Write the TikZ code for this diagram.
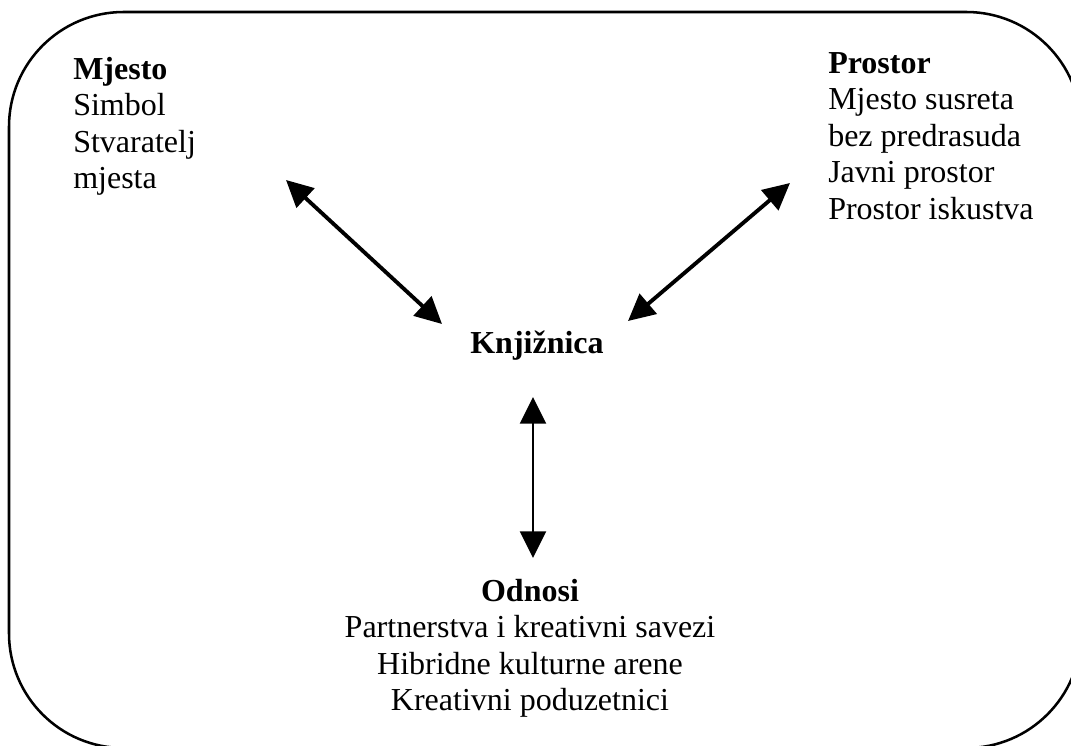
\documentclass[tikz,border=0pt]{standalone}
\usepackage{fontspec}
\setmainfont{Liberation Serif}
\usetikzlibrary{arrows.meta}
\begin{document}
\begin{tikzpicture}[x=0.75pt,y=-0.75pt,
  frame/.style={draw=black,line width=1.9pt,rounded corners=86pt},
  txt/.style={inner sep=0pt,font=\fontsize{24}{27.4}\selectfont},
  dbl/.style={line width=2.9pt,{Triangle[length=20pt,width=19.5pt]}-{Triangle[length=20pt,width=19.5pt]}},
  dblthin/.style={line width=1.8pt,{Triangle[length=20pt,width=19.5pt]}-{Triangle[length=20pt,width=19.5pt]}}]
\useasboundingbox (0,0) rectangle (1071,746);
\draw[frame] (9,12) rectangle (1081,748);
\node[txt,anchor=base west] (mjesto) at (73,79)
  {\begin{tabular}[t]{@{}l@{}}\textbf{Mjesto}\\Simbol\\Stvaratelj\\mjesta\end{tabular}};
\node[txt,anchor=base west] (prostor) at (828,73)
  {\begin{tabular}[t]{@{}l@{}}\textbf{Prostor}\\Mjesto susreta\\bez predrasuda\\Javni prostor\\Prostor iskustva\end{tabular}};
\node[txt,anchor=base] (knjiznica) at (537,353) {\textbf{Knjižnica}};
\node[txt,anchor=base] (odnosi) at (530,601)
  {\begin{tabular}[t]{@{}c@{}}\textbf{Odnosi}\\Partnerstva i kreativni savezi\\Hibridne kulturne arene\\Kreativni poduzetnici\end{tabular}};
\coordinate (a1) at (286,180);
\coordinate (a2) at (442,324);
\coordinate (b1) at (790,183);
\coordinate (b2) at (628,321);
\coordinate (c1) at (533,397);
\coordinate (c2) at (533,558);
\draw[dbl] (a1) -- (a2);
\draw[dbl] (b1) -- (b2);
\draw[dblthin] (c1) -- (c2);
\end{tikzpicture}
\end{document}
